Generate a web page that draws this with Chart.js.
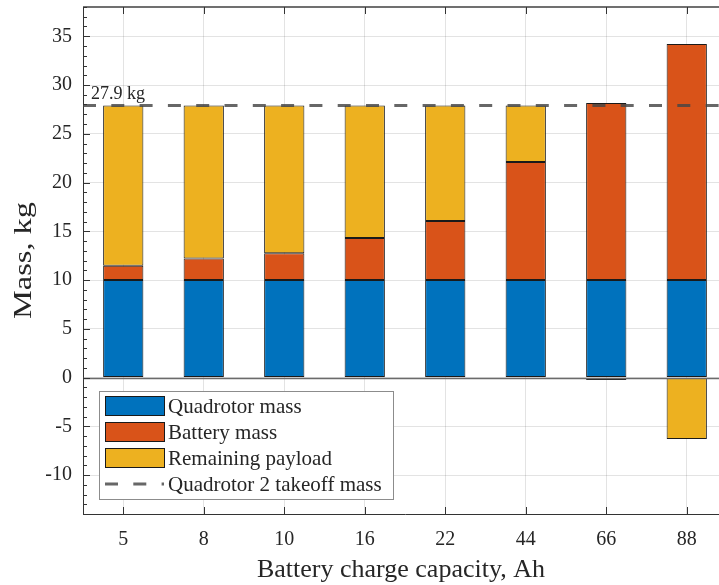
<!DOCTYPE html>
<html>
<head>
<meta charset="utf-8">
<script src="https://cdn.jsdelivr.net/npm/chart.js@4/dist/chart.umd.min.js"></script>
<style>
  html, body { margin: 0; padding: 0; background: #fff; overflow: hidden; }
  #wrap { width: 727px; height: 585px; }
</style>
</head>
<body>
<div id="wrap"><canvas id="c" width="727" height="585"></canvas></div>
<script>
// Mass breakdown per battery option
const capacities = ['5', '8', '10', '16', '22', '44', '66', '88'];
const quadrotorMass = [10, 10, 10, 10, 10, 10, 10, 10];
const batteryMass = [1.45, 2.2, 2.75, 4.3, 6.05, 12.1, 18.15, 24.2];
const remainingPayload = [16.45, 15.7, 15.15, 13.6, 11.85, 5.8, -0.25, -6.3];
const takeoffMass = 27.9;
const takeoffLabel = '27.9 kg';
const seriesNames = ['Quadrotor mass', 'Battery mass', 'Remaining payload', 'Quadrotor 2 takeoff mass'];
const seriesColors = ['#0072BD', '#D95319', '#EDB120'];
const xTitle = 'Battery charge capacity, Ah';
const yTitle = 'Mass, kg';

const FONT = '"Liberation Serif", "Times New Roman", serif';
const INK = '#262626';
const DASH = [13, 15.3];
const DASH_COLOR = 'rgba(70,70,70,0.82)';

Chart.defaults.font.family = FONT;
Chart.defaults.color = INK;

const decor = {
  id: 'decor',
  afterDatasetsDraw(chart) {
    const { ctx, chartArea: a, scales } = chart;
    const y = scales.y, x = scales.x;
    ctx.save();

    // bar baseline at zero
    const y0 = Math.round(y.getPixelForValue(0)) + 0.5;
    ctx.strokeStyle = '#6b6b6b';
    ctx.lineWidth = 1.3;
    ctx.beginPath(); ctx.moveTo(a.left, y0); ctx.lineTo(a.right, y0); ctx.stroke();

    // takeoff mass reference line
    const yt = y.getPixelForValue(takeoffMass);
    ctx.strokeStyle = DASH_COLOR;
    ctx.lineWidth = 3;
    ctx.setLineDash(DASH);
    ctx.beginPath(); ctx.moveTo(a.left, yt); ctx.lineTo(a.right, yt); ctx.stroke();
    ctx.setLineDash([]);

    ctx.fillStyle = INK;
    ctx.font = '18px ' + FONT;
    ctx.textAlign = 'left';
    ctx.textBaseline = 'alphabetic';
    ctx.fillText(takeoffLabel, a.left + 8, yt - 6);

    // top box edge
    ctx.strokeStyle = '#707070';
    ctx.lineWidth = 2;
    ctx.beginPath(); ctx.moveTo(a.left, a.top); ctx.lineTo(a.right, a.top); ctx.stroke();

    // inward tick marks
    ctx.strokeStyle = '#333';
    ctx.lineWidth = 1;
    ctx.beginPath();
    for (let v = Math.ceil(y.min); v <= y.max; v++) {
      const py = Math.round(y.getPixelForValue(v)) + 0.5;
      const len = (v % 5 === 0) ? 7 : 4;
      ctx.moveTo(a.left, py); ctx.lineTo(a.left + len, py);
    }
    for (let i = 0; i < capacities.length; i++) {
      const px = Math.round(x.getPixelForValue(i)) + 0.5;
      ctx.moveTo(px, a.top); ctx.lineTo(px, a.top + 7);
      ctx.moveTo(px, a.bottom); ctx.lineTo(px, a.bottom - 7);
    }
    ctx.stroke();

    // legend
    const lx = a.left + 16, ly = a.bottom - 123, lw = 294, lh = 108;
    ctx.fillStyle = '#fff';
    ctx.fillRect(lx, ly, lw, lh);
    ctx.strokeStyle = '#8c8c8c';
    ctx.lineWidth = 1;
    ctx.strokeRect(lx + 0.5, ly + 0.5, lw, lh);
    ctx.font = '21px ' + FONT;
    for (let i = 0; i < seriesNames.length; i++) {
      const cy = ly + 15 + i * 26;
      const sx = lx + 6, sw = 59;
      if (i < 3) {
        ctx.fillStyle = seriesColors[i];
        ctx.fillRect(sx, cy - 9.5, sw, 19);
        ctx.strokeStyle = '#1a1a1a';
        ctx.strokeRect(sx + 0.5, cy - 9.5, sw, 19);
      } else {
        ctx.strokeStyle = DASH_COLOR;
        ctx.lineWidth = 3;
        ctx.setLineDash(DASH);
        ctx.beginPath(); ctx.moveTo(sx, cy); ctx.lineTo(sx + sw, cy); ctx.stroke();
        ctx.setLineDash([]);
        ctx.lineWidth = 1;
      }
      ctx.fillStyle = INK;
      ctx.fillText(seriesNames[i], sx + sw + 4, cy + 7);
    }

    // axis titles
    ctx.font = '26px ' + FONT;
    ctx.textAlign = 'center';
    ctx.fillText(xTitle, (a.left + a.right) / 2 - 4, 577);

    ctx.save();
    ctx.translate(31, (a.top + a.bottom) / 2);
    ctx.rotate(-Math.PI / 2);
    const w = ctx.measureText(yTitle).width;
    ctx.scale(117 / w, 1);
    ctx.textAlign = 'center';
    ctx.fillText(yTitle, 0, 0);
    ctx.restore();

    ctx.restore();
  }
};

const barStyle = { borderColor: '#1a1a1a', borderWidth: 1, borderSkipped: false, barPercentage: 0.5, categoryPercentage: 1 };

new Chart(document.getElementById('c'), {
  type: 'bar',
  data: {
    labels: capacities,
    datasets: [
      Object.assign({ label: seriesNames[0], data: quadrotorMass, backgroundColor: seriesColors[0] }, barStyle),
      Object.assign({ label: seriesNames[1], data: batteryMass, backgroundColor: seriesColors[1] }, barStyle),
      Object.assign({ label: seriesNames[2], data: remainingPayload, backgroundColor: seriesColors[2] }, barStyle)
    ]
  },
  options: {
    responsive: false,
    animation: false,
    devicePixelRatio: 1,
    layout: { padding: { top: 7, left: 0, right: 0, bottom: 0 } },
    plugins: { legend: { display: false }, tooltip: { enabled: false } },
    scales: {
      x: {
        stacked: true,
        grid: { offset: false, color: 'rgba(38,38,38,0.13)', drawTicks: false },
        border: { color: '#333', width: 1 },
        ticks: { font: { size: 20 }, color: INK, padding: 14, maxRotation: 0 },
        afterFit(s) { s.height = 71; s.paddingLeft = 0; s.paddingRight = 0; }
      },
      y: {
        stacked: true,
        min: -14,
        max: 38,
        grid: { color: 'rgba(38,38,38,0.13)', drawTicks: false },
        border: { color: '#333', width: 1 },
        ticks: { stepSize: 5, includeBounds: false, font: { size: 20 }, color: INK, padding: 11 },
        afterFit(s) { s.width = 83; s.paddingTop = 0; s.paddingBottom = 0; }
      }
    }
  },
  plugins: [decor]
});
</script>
</body>
</html>
